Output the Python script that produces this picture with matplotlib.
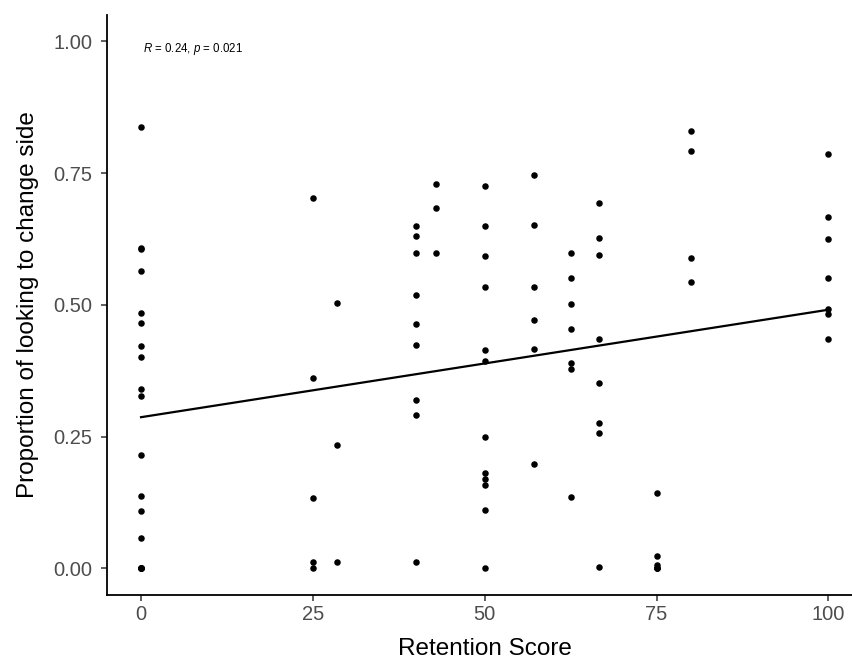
import numpy as np
import matplotlib
matplotlib.use("Agg")
import matplotlib.pyplot as plt

plt.rcParams['font.family'] = ['Liberation Sans', 'DejaVu Sans']
plt.rcParams['mathtext.fontset'] = 'custom'
plt.rcParams['mathtext.rm'] = 'Liberation Sans'
plt.rcParams['mathtext.it'] = 'Liberation Sans:italic'

# Retention score groups and the proportions observed in each
# (repeated values sit on top of each other in the scatter)
score_0 = [0.837, 0.608, 0.606, 0.565, 0.484, 0.465, 0.422, 0.401, 0.340, 0.327,
           0.215, 0.137, 0.108, 0.058, 0.0, 0.0, 0.0, 0.0, 0.0]
score_25 = [0.702, 0.361, 0.133, 0.011, 0.0]
score_28 = [0.503, 0.233, 0.011]
score_40 = [0.649, 0.631, 0.598, 0.519, 0.463, 0.423, 0.320, 0.290, 0.012]
score_43 = [0.730, 0.683, 0.598]
score_50 = [0.725, 0.649, 0.593, 0.533, 0.414, 0.394, 0.250, 0.180, 0.169, 0.158,
            0.110, 0.0]
score_57 = [0.746, 0.652, 0.534, 0.472, 0.416, 0.198]
score_62 = [0.599, 0.551, 0.501, 0.454, 0.389, 0.378, 0.136]
score_67 = [0.693, 0.626, 0.594, 0.436, 0.351, 0.276, 0.256, 0.002]
score_75 = [0.142, 0.023, 0.007, 0.0, 0.0, 0.0]
score_80 = [0.829, 0.791, 0.588, 0.544]
score_100 = [0.786, 0.667, 0.625, 0.551, 0.492, 0.483, 0.435]

groups = {
    0: score_0, 25: score_25, 200 / 7: score_28, 40: score_40, 300 / 7: score_43,
    50: score_50, 400 / 7: score_57, 62.5: score_62, 200 / 3: score_67,
    75: score_75, 80: score_80, 100: score_100,
}
x = np.concatenate([[k] * len(v) for k, v in groups.items()])
y = np.concatenate([v for v in groups.values()])

stat_label = r'$\it{R}$ = 0.24, $\it{p}$ = 0.021'

fig = plt.figure(figsize=(8.52, 6.61), dpi=100)
ax = fig.add_axes([0.1252, 0.1005, 0.8874, 0.8768])

ax.scatter(x, y, s=22, color='black', linewidths=0, zorder=3)

# linear fit across the observed score range
slope, intercept = np.polyfit(x, y, 1)
xs = np.array([x.min(), x.max()])
ax.plot(xs, intercept + slope * xs, color='black', lw=1.6, zorder=2)

ax.text(0.3, 0.986, stat_label, fontsize=8.3, ha='left', va='center')

ax.set_xlim(-5, 105)
ax.set_ylim(-0.05, 1.05)
ax.set_xticks([0, 25, 50, 75, 100])
ax.set_yticks([0, 0.25, 0.5, 0.75, 1.0])
ax.set_yticklabels(['0.00', '0.25', '0.50', '0.75', '1.00'])

for side in ['top', 'right']:
    ax.spines[side].set_visible(False)
for side in ['left', 'bottom']:
    ax.spines[side].set_linewidth(1.3)
    ax.spines[side].set_color('black')
ax.tick_params(axis='both', labelsize=14.5, colors='#333333', labelcolor='#4D4D4D',
               length=4.5, width=1.1, pad=3)
ax.tick_params(axis='y', pad=6)

ax.set_xlabel('Retention Score', fontsize=17.5, labelpad=10)
ax.set_ylabel('Proportion of looking to change side', fontsize=17.5, labelpad=10)

fig.savefig('out.png', dpi=100)
